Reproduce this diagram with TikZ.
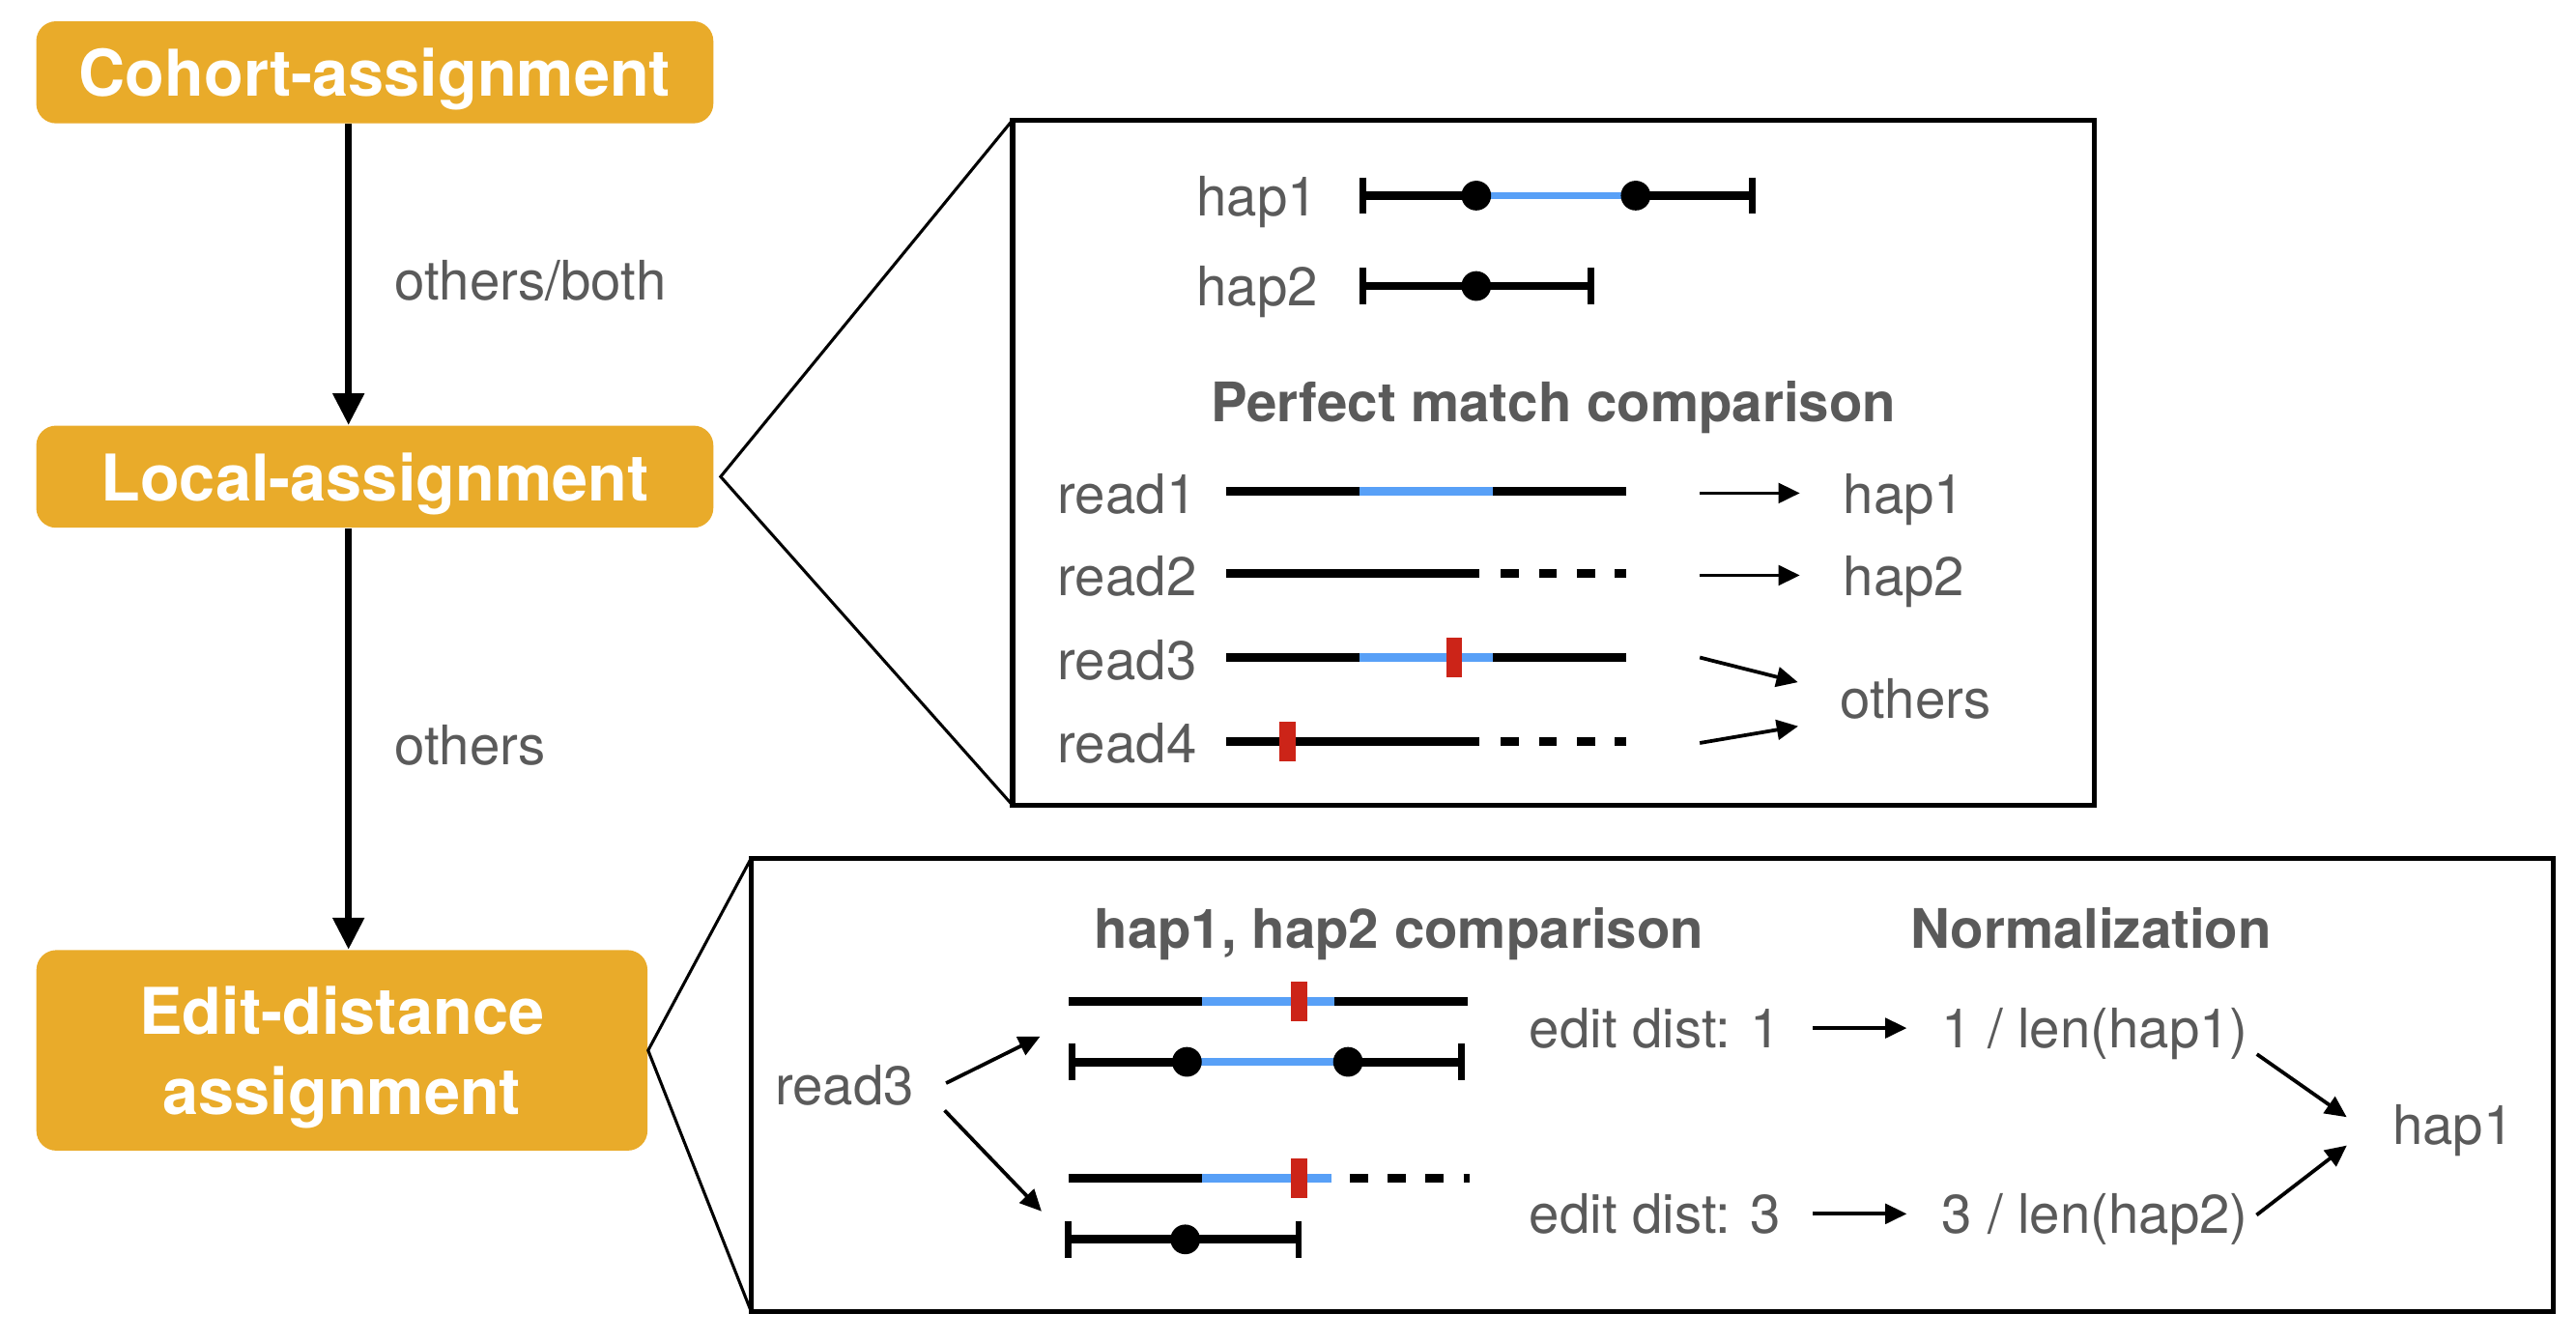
\documentclass[tikz,border=0pt]{standalone}
\usepackage{fontspec}
\setmainfont{TeX Gyre Heros}
\usetikzlibrary{arrows.meta,positioning}
\definecolor{stageorange}{RGB}{233,171,42}
\definecolor{labelgray}{RGB}{90,90,90}
\definecolor{matchblue}{RGB}{88,160,247}
\definecolor{snpred}{RGB}{204,36,24}
\tikzset{
  stage/.style={fill=stageorange, rounded corners=6pt, text=white, align=center,
    font=\fontsize{19.5}{24.5}\selectfont\bfseries, inner sep=0pt, text depth=0pt},
  lbl/.style={text=labelgray, font=\fontsize{16.5}{19}\selectfont, inner sep=0pt, yshift=-2pt},
  ttl/.style={text=labelgray, font=\fontsize{16.5}{19}\selectfont\bfseries, inner sep=0pt, yshift=-2.2pt},
  panel/.style={draw, line width=1.5pt, inner sep=0pt, outer sep=0pt, anchor=north west},
  zoomline/.style={line width=0.9pt},
  flow/.style={-{Triangle[length=9.6pt,width=9.2pt]}, line width=2pt},
  arr/.style={-{Triangle[length=6.5pt,width=6pt]}, line width=1.1pt},
  seq/.style={line width=2.6pt},
  hit/.style={seq, matchblue},
  partial/.style={seq, dash pattern=on 5.5pt off 6pt},
  bound/.style={line width=2pt},
  snp/.style={fill=snpred},
}
\begin{document}
\begin{tikzpicture}[x=0.4977pt, y=-0.4977pt]
  \useasboundingbox (0,0) rectangle (1567,816);

  \node (cohort) [stage, minimum width=205pt, minimum height=30.9pt] at (228,44) {Cohort-assignment};
  \node (local)  [stage, minimum width=205pt, minimum height=30.9pt] at (228,290) {Local-assignment};
  \node (edit)   [stage, minimum width=185pt, minimum height=60.7pt] at (208,639) {Edit-distance\\assignment};
  \coordinate (spine) at (212,0);

  \path[flow]
    (cohort.south -| spine) edge node [lbl, right=13pt] {others/both} (local.north -| spine)
    (local.south -| spine)  edge node [lbl, right=13pt] {others} (edit.north -| spine);

  % perfect match panel
  \node (match) [panel, minimum width=327.5pt, minimum height=207.5pt] at (616,73) {};
  \draw[zoomline] (match.north west) -- ([xshift=2pt]local.east) -- (match.south west);

  \node (hapA) [lbl, anchor=mid east] at (802,122) {hap1};
  \node (hapB) [lbl, anchor=mid east] at (802,177) {hap2};
  \draw[seq] (829,119) -- (898,119) (995,119) -- (1066,119);
  \draw[hit, line width=2.2pt] (898,119) -- (995,119);
  \draw[bound] (829,108) -- (829,130) (1066,108) -- (1066,130);
  \fill (898,119) circle (4.5pt) (995,119) circle (4.5pt);
  \draw[seq] (829,174) -- (968,174);
  \draw[bound] (829,163) -- (829,185) (968,163) -- (968,185);
  \fill (898,174) circle (4.5pt);

  \node (pm) [ttl, anchor=mid] at (945,247) {Perfect match comparison};

  \node (rA) [lbl, anchor=mid west] at (643,303) {read1};
  \node (rB) [lbl, anchor=mid west] at (643,353) {read2};
  \node (rC) [lbl, anchor=mid west] at (643,404) {read3};
  \node (rD) [lbl, anchor=mid west] at (643,455) {read4};
  \draw[seq] (746,299) -- (989,299);
  \draw[hit] (827,299) -- (908,299);
  \draw[seq] (746,349) -- (900,349);
  \draw[partial] (913,349) -- (989,349);
  \draw[seq] (746,400) -- (989,400);
  \draw[hit] (827,400) -- (908,400);
  \fill[snp] (880,388) rectangle (889,412);
  \draw[seq] (746,451) -- (900,451);
  \draw[partial] (913,451) -- (989,451);
  \fill[snp] (778,439) rectangle (788,463);

  \node (tA)  [lbl, anchor=mid west] at (1121,303) {hap1};
  \node (tB)  [lbl, anchor=mid west] at (1121,353) {hap2};
  \node (oth) [lbl, anchor=mid west] at (1119,428) {others};
  \coordinate (outA) at (1034,300);
  \coordinate (outB) at (1034,350);
  \coordinate (outC) at (1034,400);
  \coordinate (outD) at (1034,452);

  \path[arr]
    (outA) edge [shorten >=13pt] (outA -| tA.west)
    (outB) edge [shorten >=13pt] (outB -| tB.west)
    (outC) edge [shorten >=13pt] ([yshift=2pt]oth.west)
    (outD) edge [shorten >=12.7pt] ([yshift=-6pt]oth.west);

  % edit distance panel
  \node (dist) [panel, minimum width=545.5pt, minimum height=137.4pt] at (457,522) {};
  \draw[zoomline] (dist.north west) -- (edit.east) -- (dist.south west);

  \node (cmpT)  [ttl, anchor=mid] at (851,567) {hap1, hap2 comparison};
  \node (normT) [ttl, anchor=mid] at (1272,567) {Normalization};
  \node (rd) [lbl, anchor=mid west] at (471,663) {read3};
  \coordinate (pairA) at (650,622);
  \coordinate (pairB) at (650,754);

  \draw[seq] (650,609) -- (893,609);
  \draw[hit] (731,609) -- (812,609);
  \fill[snp] (785,597) rectangle (795,621);
  \draw[seq] (652,646) -- (722,646) (820,646) -- (889,646);
  \draw[hit, line width=2.2pt] (722,646) -- (820,646);
  \draw[bound] (652,635) -- (652,657) (889,635) -- (889,657);
  \fill (722,646) circle (4.5pt) (820,646) circle (4.5pt);

  \draw[seq] (650,717) -- (731,717);
  \draw[hit] (731,717) -- (810,717);
  \draw[partial] (821,717) -- (894,717);
  \fill[snp] (785,705) rectangle (795,729);
  \draw[seq] (650,754) -- (790,754);
  \draw[bound] (650,743) -- (650,765) (790,743) -- (790,765);
  \fill (721,754) circle (4.5pt);

  \node (eA) [lbl, anchor=mid west] at (930,628) {edit dist: 1};
  \node (nA) [lbl, anchor=mid west] at (1181,628) {1 / len(hap1)};
  \node (eB) [lbl, anchor=mid west] at (930,741) {edit dist: 3};
  \node (nB) [lbl, anchor=mid west] at (1181,741) {3 / len(hap2)};
  \node (best) [lbl, anchor=mid west] at (1455,687) {hap1};

  \path[arr]
    ([yshift=-4pt]rd.east) edge [shorten <=10.7pt, shorten >=9.6pt] (pairA)
    ([yshift=2pt]rd.east) edge [shorten <=13.2pt, shorten >=11.8pt] (pairB)
    (eA.east) edge [shorten <=9.5pt, shorten >=10.5pt] (eA.east -| nA.west)
    (eB.east) edge [shorten <=9.5pt, shorten >=10.5pt] (eB.east -| nB.west)
    ([yshift=-4.5pt]nA.east) edge [shorten <=3pt, shorten >=16.7pt] ([yshift=-5.5pt]best.west)
    ([yshift=-0.5pt]nB.east) edge [shorten <=3pt, shorten >=17.2pt] ([yshift=6pt]best.west);
\end{tikzpicture}
\end{document}
